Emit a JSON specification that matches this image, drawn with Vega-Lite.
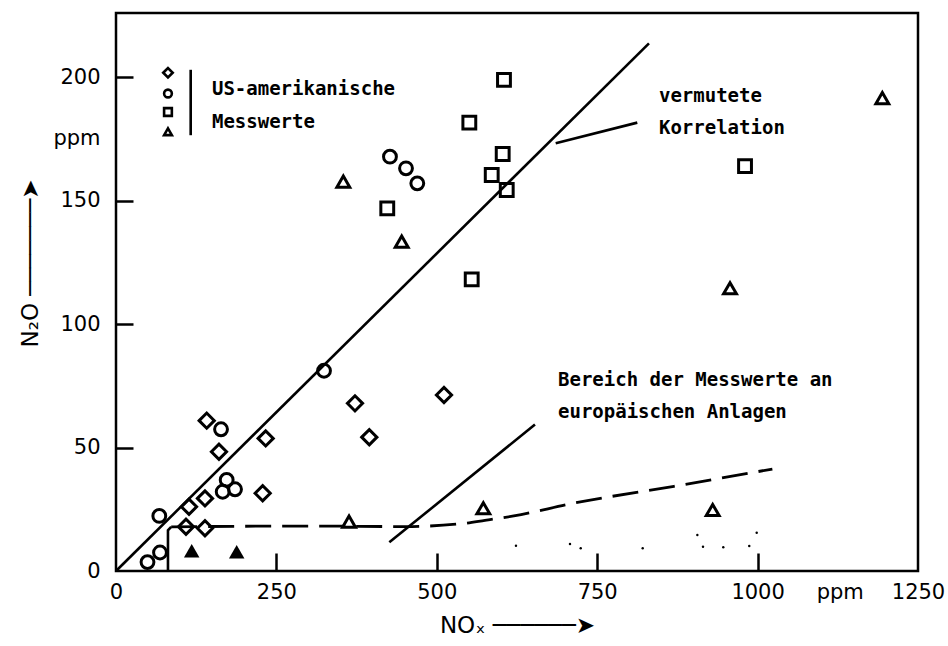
{
  "$schema": "https://vega.github.io/schema/vega-lite/v6.json",
  "width": 802,
  "height": 558,
  "autosize": {"type": "none"},
  "padding": {"left": 116, "top": 13, "right": 30, "bottom": 75},
  "background": "white",
  "config": {
    "view": {"stroke": "black", "strokeWidth": 2.5},
    "axis": {
      "grid": false,
      "domain": false,
      "labelFont": "DejaVu Sans",
      "labelColor": "black",
      "titleFont": "DejaVu Sans",
      "titleFontWeight": "normal",
      "titleColor": "black",
      "tickWidth": 2.5
    }
  },
  "datasets": {
    "pts": [
      {"x": 141.4, "y": 60.9, "s": "diamond"},
      {"x": 233.3, "y": 53.7, "s": "diamond"},
      {"x": 160.5, "y": 48.3, "s": "diamond"},
      {"x": 228.6, "y": 31.5, "s": "diamond"},
      {"x": 138.7, "y": 29.4, "s": "diamond"},
      {"x": 113.8, "y": 26.0, "s": "diamond"},
      {"x": 109.1, "y": 17.9, "s": "diamond"},
      {"x": 138.7, "y": 17.3, "s": "diamond"},
      {"x": 372.5, "y": 67.9, "s": "diamond"},
      {"x": 394.8, "y": 54.2, "s": "diamond"},
      {"x": 511.2, "y": 71.3, "s": "diamond"},
      {"x": 163.7, "y": 57.4, "s": "circle"},
      {"x": 172.5, "y": 36.9, "s": "circle"},
      {"x": 166.3, "y": 32.1, "s": "circle"},
      {"x": 185.5, "y": 33.1, "s": "circle"},
      {"x": 67.5, "y": 22.3, "s": "circle"},
      {"x": 68.6, "y": 7.5, "s": "circle"},
      {"x": 49.1, "y": 3.6, "s": "circle"},
      {"x": 324.2, "y": 81.1, "s": "circle"},
      {"x": 427.0, "y": 167.8, "s": "circle"},
      {"x": 452.0, "y": 163.1, "s": "circle"},
      {"x": 469.6, "y": 157.0, "s": "circle"},
      {"x": 604.7, "y": 198.9, "s": "square"},
      {"x": 550.7, "y": 181.6, "s": "square"},
      {"x": 602.7, "y": 168.9, "s": "square"},
      {"x": 585.6, "y": 160.4, "s": "square"},
      {"x": 609.0, "y": 154.3, "s": "square"},
      {"x": 422.8, "y": 146.9, "s": "square"},
      {"x": 554.4, "y": 118.1, "s": "square"},
      {"x": 980.4, "y": 164.0, "s": "square"},
      {"x": 354.3, "y": 157.7, "s": "triangle-up"},
      {"x": 445.3, "y": 133.4, "s": "triangle-up"},
      {"x": 1194.4, "y": 191.5, "s": "triangle-up"},
      {"x": 957.0, "y": 114.5, "s": "triangle-up"},
      {"x": 930.0, "y": 24.7, "s": "triangle-up"},
      {"x": 363.2, "y": 20.0, "s": "triangle-up"},
      {"x": 572.5, "y": 25.4, "s": "triangle-up"}
    ],
    "filled": [
      {"x": 118.0, "y": 8.2},
      {"x": 188.1, "y": 7.8}
    ],
    "legendsym": [
      {"x": 81, "y": 201.8, "s": "diamond"},
      {"x": 81, "y": 193.4, "s": "circle"},
      {"x": 81, "y": 185.9, "s": "square"},
      {"x": 81, "y": 177.9, "s": "triangle-up"}
    ],
    "dots": [
      {"x": 623.4, "y": 10.2},
      {"x": 707.6, "y": 10.9},
      {"x": 724.3, "y": 9.2},
      {"x": 820.9, "y": 9.2},
      {"x": 906.1, "y": 14.6},
      {"x": 914.9, "y": 9.8},
      {"x": 946.5, "y": 9.6},
      {"x": 987.0, "y": 10.1},
      {"x": 998.6, "y": 15.5}
    ],
    "lines": [
      {"line": "corr", "o": 1, "x": 0, "y": 0},
      {"line": "corr", "o": 2, "x": 830.7, "y": 213.7},
      {"line": "ptr1", "o": 1, "x": 812.5, "y": 181.6},
      {"line": "ptr1", "o": 2, "x": 685.3, "y": 173.2},
      {"line": "ptr2", "o": 1, "x": 426.0, "y": 11.6},
      {"line": "ptr2", "o": 2, "x": 653.0, "y": 59.3},
      {"line": "bracket", "o": 1, "x": 81, "y": 0},
      {"line": "bracket", "o": 2, "x": 81, "y": 16.5},
      {"line": "bracket", "o": 3, "x": 86, "y": 17.9},
      {"line": "legbar", "o": 1, "x": 116.4, "y": 203.0},
      {"line": "legbar", "o": 2, "x": 116.4, "y": 176.5}
    ],
    "dashed": [
      {"o": 1, "x": 86, "y": 17.9},
      {"o": 2, "x": 300, "y": 18.2},
      {"o": 3, "x": 450, "y": 18.0},
      {"o": 4, "x": 540, "y": 19.2},
      {"o": 5, "x": 575, "y": 20.5},
      {"o": 6, "x": 620, "y": 22.3},
      {"o": 7, "x": 713.8, "y": 27.5},
      {"o": 8, "x": 869.7, "y": 34.3},
      {"o": 9, "x": 1023, "y": 41.3}
    ],
    "texts": [
      {"x": 149.6, "y": 195.1, "t": "US-amerikanische"},
      {"x": 149.6, "y": 182.0, "t": "Messwerte"},
      {"x": 846.3, "y": 192.5, "t": "vermutete"},
      {"x": 846.3, "y": 179.5, "t": "Korrelation"},
      {"x": 688.9, "y": 77.2, "t": "Bereich der Messwerte an"},
      {"x": 688.9, "y": 64.3, "t": "europäischen Anlagen"}
    ]
  },
  "encoding": {
    "x": {
      "field": "x",
      "type": "quantitative",
      "scale": {"domain": [0, 1250], "nice": false, "zero": false},
      "axis": {
        "title": "NOₓ ──────➤",
        "titleFontSize": 23,
        "titlePadding": 12,
        "values": [0, 250, 500, 750, 1000, 1128, 1250],
        "format": "d",
        "labelExpr": "datum.value == 1128 ? 'ppm' : datum.label",
        "labelFontSize": 21,
        "labelPadding": 28,
        "labelFlush": false,
        "tickSize": -18,
        "tickColor": {"condition": {"test": "datum.value == 0 || datum.value == 1128 || datum.value == 1250", "value": "transparent"}, "value": "black"}
      }
    },
    "y": {
      "field": "y",
      "type": "quantitative",
      "scale": {"domain": [0, 226], "nice": false, "zero": false},
      "axis": {
        "title": "N₂O    ───────➤",
        "titleFontSize": 23,
        "titlePadding": 10,
        "titleY": 250,
        "values": [0, 50, 100, 150, 175, 200],
        "labelExpr": "datum.value == 175 ? 'ppm' : datum.label",
        "labelFontSize": 21,
        "labelPadding": 33,
        "labelFlush": false,
        "tickSize": -17,
        "tickColor": {"condition": {"test": "datum.value == 0 || datum.value == 175", "value": "transparent"}, "value": "black"}
      }
    }
  },
  "layer": [
    {
      "data": {"name": "lines"},
      "mark": {"type": "line", "color": "black", "strokeWidth": 2.6},
      "encoding": {"detail": {"field": "line"}, "order": {"field": "o"}}
    },
    {
      "data": {"name": "dashed"},
      "mark": {"type": "line", "color": "black", "strokeWidth": 2.8, "strokeDash": [26, 11], "interpolate": "monotone"},
      "encoding": {"order": {"field": "o"}}
    },
    {
      "data": {"name": "pts"},
      "transform": [{"filter": "datum.s == 'diamond'"}],
      "mark": {"type": "point", "shape": "diamond", "filled": false, "color": "black", "strokeWidth": 3, "size": 230, "opacity": 1}
    },
    {
      "data": {"name": "pts"},
      "transform": [{"filter": "datum.s != 'diamond'"}],
      "mark": {"type": "point", "filled": false, "color": "black", "strokeWidth": 3, "size": 165, "opacity": 1},
      "encoding": {
        "shape": {"field": "s", "type": "nominal", "scale": {"domain": ["circle", "square", "triangle-up"], "range": ["circle", "square", "triangle-up"]}, "legend": null}
      }
    },
    {
      "data": {"name": "filled"},
      "mark": {"type": "point", "shape": "triangle-up", "filled": true, "color": "black", "size": 240, "opacity": 1}
    },
    {
      "data": {"name": "legendsym"},
      "transform": [{"filter": "datum.s == 'diamond'"}],
      "mark": {"type": "point", "shape": "diamond", "filled": false, "color": "black", "strokeWidth": 2.6, "size": 90, "opacity": 1}
    },
    {
      "data": {"name": "legendsym"},
      "transform": [{"filter": "datum.s != 'diamond'"}],
      "mark": {"type": "point", "filled": false, "color": "black", "strokeWidth": 2.6, "size": 60, "opacity": 1},
      "encoding": {
        "shape": {"field": "s", "type": "nominal", "scale": {"domain": ["circle", "square", "triangle-up"], "range": ["circle", "square", "triangle-up"]}, "legend": null}
      }
    },
    {
      "data": {"name": "dots"},
      "mark": {"type": "point", "shape": "circle", "filled": true, "color": "black", "size": 6, "opacity": 1}
    },
    {
      "data": {"name": "texts"},
      "mark": {"type": "text", "align": "left", "baseline": "middle", "font": "DejaVu Sans Mono", "fontWeight": "bold", "fontSize": 19, "color": "black"},
      "encoding": {"text": {"field": "t"}}
    }
  ]
}
